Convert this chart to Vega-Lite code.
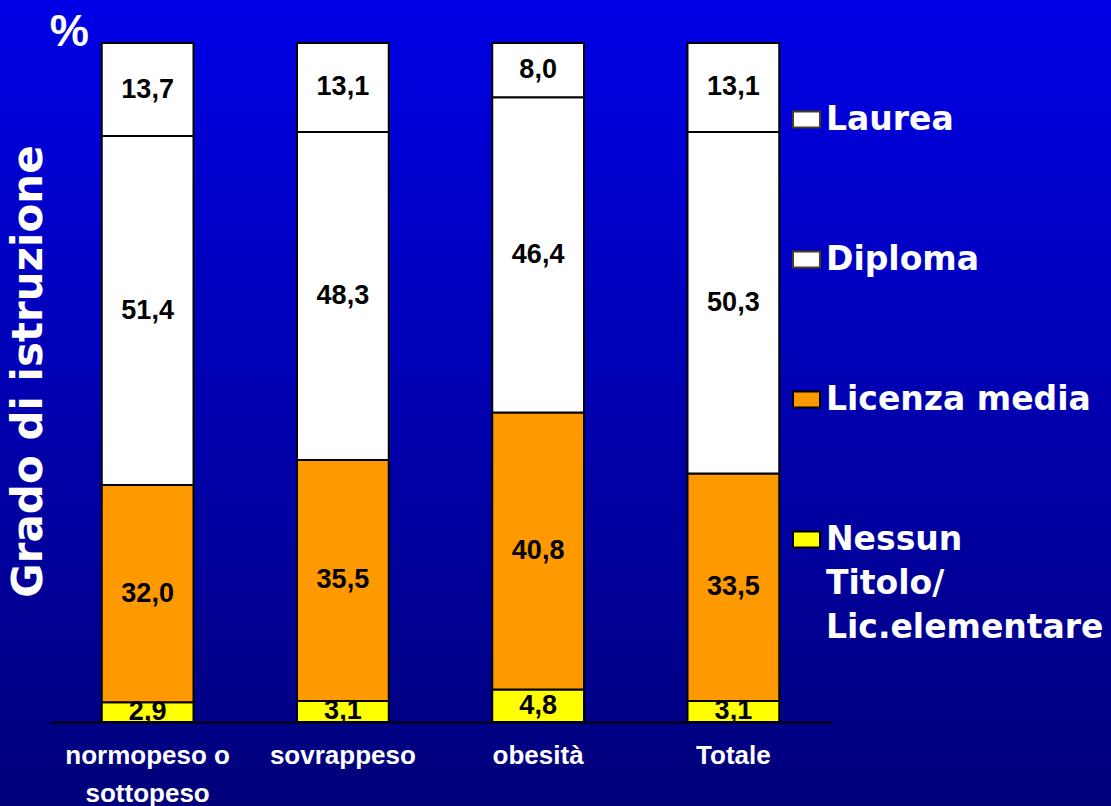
{
  "$schema": "https://vega.github.io/schema/vega-lite/v6.json",
  "width": 1111,
  "height": 806,
  "autosize": {"type": "none"},
  "padding": 0,
  "background": "#00007F",
  "config": {
    "locale": {"number": {"decimal": ",", "thousands": ".", "grouping": [3], "currency": ["€", ""]}},
    "view": {
      "stroke": null,
      "fill": {
        "gradient": "linear",
        "x1": 0, "y1": 0, "x2": 0, "y2": 1,
        "stops": [
          {"offset": 0, "color": "#0000E6"},
          {"offset": 1, "color": "#00007A"}
        ]
      }
    }
  },
  "data": {
    "values": [
      {"peso": "normopeso o sottopeso", "grado": "Nessun Titolo/Lic.elementare", "k": 1, "v": 2.9},
      {"peso": "normopeso o sottopeso", "grado": "Licenza media", "k": 2, "v": 32.0},
      {"peso": "normopeso o sottopeso", "grado": "Diploma", "k": 3, "v": 51.4},
      {"peso": "normopeso o sottopeso", "grado": "Laurea", "k": 4, "v": 13.7},
      {"peso": "sovrappeso", "grado": "Nessun Titolo/Lic.elementare", "k": 1, "v": 3.1},
      {"peso": "sovrappeso", "grado": "Licenza media", "k": 2, "v": 35.5},
      {"peso": "sovrappeso", "grado": "Diploma", "k": 3, "v": 48.3},
      {"peso": "sovrappeso", "grado": "Laurea", "k": 4, "v": 13.1},
      {"peso": "obesità", "grado": "Nessun Titolo/Lic.elementare", "k": 1, "v": 4.8},
      {"peso": "obesità", "grado": "Licenza media", "k": 2, "v": 40.8},
      {"peso": "obesità", "grado": "Diploma", "k": 3, "v": 46.4},
      {"peso": "obesità", "grado": "Laurea", "k": 4, "v": 8.0},
      {"peso": "Totale", "grado": "Nessun Titolo/Lic.elementare", "k": 1, "v": 3.1},
      {"peso": "Totale", "grado": "Licenza media", "k": 2, "v": 33.5},
      {"peso": "Totale", "grado": "Diploma", "k": 3, "v": 50.3},
      {"peso": "Totale", "grado": "Laurea", "k": 4, "v": 13.1}
    ]
  },
  "encoding": {
    "x": {
      "field": "peso",
      "type": "nominal",
      "sort": null,
      "scale": {"range": [50, 831], "paddingInner": 0.53, "paddingOuter": 0.265},
      "axis": {
        "title": null,
        "orient": "bottom",
        "offset": -84,
        "domain": true,
        "domainColor": "black",
        "domainWidth": 2,
        "ticks": false,
        "labelAngle": 0,
        "labelPadding": 20,
        "labelColor": "white",
        "labelFont": "Liberation Sans",
        "labelFontSize": 26,
        "labelFontWeight": "bold",
        "labelLineHeight": 38,
        "labelLimit": 300,
        "labelExpr": "datum.label == 'normopeso o sottopeso' ? ['normopeso o', 'sottopeso'] : datum.label"
      }
    }
  },
  "layer": [
    {
      "mark": {"type": "bar", "stroke": "black", "strokeWidth": 2},
      "encoding": {
        "y": {
          "field": "v",
          "type": "quantitative",
          "stack": "zero",
          "scale": {"domain": [0, 100], "range": [722, 43], "nice": false},
          "axis": {
            "title": "Grado di istruzione",
            "orient": "left",
            "offset": -54,
            "domain": false,
            "ticks": false,
            "labels": false,
            "grid": false,
            "titlePadding": 4,
            "titleY": 371,
            "titleColor": "white",
            "titleFont": "DejaVu Sans",
            "titleFontSize": 42,
            "titleFontWeight": "bold"
          }
        },
        "order": {"field": "k", "type": "quantitative"},
        "color": {
          "field": "grado",
          "type": "nominal",
          "scale": {
            "domain": ["Laurea", "Diploma", "Licenza media", "Nessun Titolo/Lic.elementare"],
            "range": ["#FFFFFF", "#FFFFFF", "#FF9900", "#FFFF00"]
          },
          "legend": {
            "title": null,
            "orient": "none",
            "legendX": 790,
            "legendY": 103,
            "padding": 0,
            "rowPadding": 106,
            "symbolType": "M-1,-0.6H1V0.6H-1Z",
            "symbolSize": 729,
            "symbolStrokeColor": "black",
            "symbolStrokeWidth": 2,
            "symbolOpacity": 1,
            "labelOffset": 3,
            "labelColor": "white",
            "labelFont": "DejaVu Sans",
            "labelFontSize": 33,
            "labelFontWeight": "bold",
            "labelLimit": 400,
            "labelExpr": "datum.label == 'Nessun Titolo/Lic.elementare' ? ['Nessun', 'Titolo/', 'Lic.elementare'] : datum.label",
            "encode": {
              "labels": {"update": {"lineHeight": {"value": 44}}},
              "symbols": {
                "update": {
                  "fill": {"signal": "datum.value === 'Licenza media' ? '#FFCC00' : scale('color', datum.value)"},
                  "stroke": {"signal": "datum.value === 'Laurea' || datum.value === 'Diploma' ? '#4B3A1E' : 'black'"}
                }
              }
            }
          }
        }
      }
    },
    {
      "mark": {"type": "text", "color": "black", "font": "Liberation Sans", "fontSize": 27, "fontWeight": "bold", "baseline": "middle"},
      "encoding": {
        "y": {"field": "v", "type": "quantitative", "stack": "zero", "bandPosition": 0.5},
        "order": {"field": "k", "type": "quantitative"},
        "detail": {"field": "grado"},
        "text": {"field": "v", "type": "quantitative", "format": ".1f"}
      }
    },
    {
      "data": {"values": [{"simbolo": "%"}]},
      "mark": {"type": "text", "color": "white", "font": "Liberation Sans", "fontSize": 44, "fontWeight": "bold", "align": "left", "baseline": "alphabetic", "dx": -98, "dy": 3},
      "encoding": {
        "x": {"datum": "normopeso o sottopeso"},
        "y": {"datum": 100},
        "text": {"field": "simbolo"}
      }
    }
  ]
}
